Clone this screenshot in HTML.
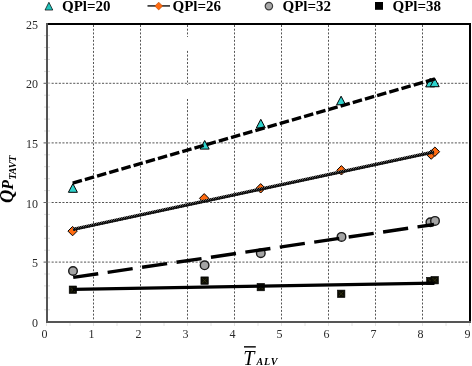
<!DOCTYPE html><html><head><meta charset="utf-8"><style>html,body{margin:0;padding:0;background:#fff;width:472px;height:366px;overflow:hidden}svg{display:block}.t{font-family:"Liberation Serif",serif;font-size:12px;fill:#2a2a2a}.lg{font-family:"Liberation Serif",serif;font-size:15px;font-weight:bold;fill:#000}</style></head><body>
<svg width="472" height="366" viewBox="0 0 472 366">
<defs><pattern id="ck" width="2" height="2" patternUnits="userSpaceOnUse"><rect width="2" height="2" fill="#6a6a6a"/><rect width="1" height="1" fill="#000"/><rect x="1" y="1" width="1" height="1" fill="#000"/></pattern></defs>
<line x1="93.5" y1="25" x2="93.5" y2="321" stroke="#555" stroke-width="1" stroke-dasharray="2 1.7"/>
<line x1="140.5" y1="25" x2="140.5" y2="321" stroke="#555" stroke-width="1" stroke-dasharray="2 1.7"/>
<line x1="187.5" y1="25" x2="187.5" y2="37" stroke="#555" stroke-width="1" stroke-dasharray="2 1.7" stroke-dashoffset="0.00"/>
<line x1="187.5" y1="49.5" x2="187.5" y2="85" stroke="#555" stroke-width="1" stroke-dasharray="2 1.7" stroke-dashoffset="2.30"/>
<line x1="187.5" y1="98" x2="187.5" y2="321" stroke="#555" stroke-width="1" stroke-dasharray="2 1.7" stroke-dashoffset="2.70"/>
<line x1="234.5" y1="25" x2="234.5" y2="321" stroke="#555" stroke-width="1" stroke-dasharray="2 1.7"/>
<line x1="281.5" y1="25" x2="281.5" y2="321" stroke="#555" stroke-width="1" stroke-dasharray="2 1.7"/>
<line x1="328.5" y1="25" x2="328.5" y2="321" stroke="#555" stroke-width="1" stroke-dasharray="2 1.7"/>
<line x1="375.5" y1="25" x2="375.5" y2="321" stroke="#555" stroke-width="1" stroke-dasharray="2 1.7"/>
<line x1="422.5" y1="25" x2="422.5" y2="321" stroke="#555" stroke-width="1" stroke-dasharray="2 1.7"/>
<line x1="48" y1="262.1" x2="469" y2="262.1" stroke="#555" stroke-width="1" stroke-dasharray="2.1 1.5"/>
<line x1="48" y1="202.5" x2="469" y2="202.5" stroke="#555" stroke-width="1" stroke-dasharray="2.1 1.5"/>
<line x1="48" y1="142.9" x2="469" y2="142.9" stroke="#555" stroke-width="1" stroke-dasharray="2.1 1.5"/>
<line x1="48" y1="83.3" x2="469" y2="83.3" stroke="#555" stroke-width="1" stroke-dasharray="2.1 1.5"/>
<line x1="46.5" y1="323" x2="46.5" y2="326" stroke="#e2e2e2" stroke-width="1"/>
<line x1="70.0" y1="323" x2="70.0" y2="326" stroke="#e2e2e2" stroke-width="1"/>
<line x1="93.5" y1="323" x2="93.5" y2="326" stroke="#e2e2e2" stroke-width="1"/>
<line x1="117.0" y1="323" x2="117.0" y2="326" stroke="#e2e2e2" stroke-width="1"/>
<line x1="140.5" y1="323" x2="140.5" y2="326" stroke="#e2e2e2" stroke-width="1"/>
<line x1="164.0" y1="323" x2="164.0" y2="326" stroke="#e2e2e2" stroke-width="1"/>
<line x1="187.5" y1="323" x2="187.5" y2="326" stroke="#e2e2e2" stroke-width="1"/>
<line x1="211.0" y1="323" x2="211.0" y2="326" stroke="#e2e2e2" stroke-width="1"/>
<line x1="234.5" y1="323" x2="234.5" y2="326" stroke="#e2e2e2" stroke-width="1"/>
<line x1="258.0" y1="323" x2="258.0" y2="326" stroke="#e2e2e2" stroke-width="1"/>
<line x1="281.5" y1="323" x2="281.5" y2="326" stroke="#e2e2e2" stroke-width="1"/>
<line x1="305.0" y1="323" x2="305.0" y2="326" stroke="#e2e2e2" stroke-width="1"/>
<line x1="328.5" y1="323" x2="328.5" y2="326" stroke="#e2e2e2" stroke-width="1"/>
<line x1="352.0" y1="323" x2="352.0" y2="326" stroke="#e2e2e2" stroke-width="1"/>
<line x1="375.5" y1="323" x2="375.5" y2="326" stroke="#e2e2e2" stroke-width="1"/>
<line x1="399.0" y1="323" x2="399.0" y2="326" stroke="#e2e2e2" stroke-width="1"/>
<line x1="422.5" y1="323" x2="422.5" y2="326" stroke="#e2e2e2" stroke-width="1"/>
<line x1="446.0" y1="323" x2="446.0" y2="326" stroke="#e2e2e2" stroke-width="1"/>
<line x1="469.5" y1="323" x2="469.5" y2="326" stroke="#e2e2e2" stroke-width="1"/>
<line x1="44" y1="309.8" x2="50" y2="309.8" stroke="#ddd" stroke-width="1"/>
<line x1="44" y1="297.9" x2="50" y2="297.9" stroke="#ddd" stroke-width="1"/>
<line x1="44" y1="285.9" x2="50" y2="285.9" stroke="#ddd" stroke-width="1"/>
<line x1="44" y1="274.0" x2="50" y2="274.0" stroke="#ddd" stroke-width="1"/>
<line x1="44" y1="262.1" x2="50" y2="262.1" stroke="#ddd" stroke-width="1"/>
<line x1="44" y1="250.2" x2="50" y2="250.2" stroke="#ddd" stroke-width="1"/>
<line x1="44" y1="238.3" x2="50" y2="238.3" stroke="#ddd" stroke-width="1"/>
<line x1="44" y1="226.3" x2="50" y2="226.3" stroke="#ddd" stroke-width="1"/>
<line x1="44" y1="214.4" x2="50" y2="214.4" stroke="#ddd" stroke-width="1"/>
<line x1="44" y1="202.5" x2="50" y2="202.5" stroke="#ddd" stroke-width="1"/>
<line x1="44" y1="190.6" x2="50" y2="190.6" stroke="#ddd" stroke-width="1"/>
<line x1="44" y1="178.7" x2="50" y2="178.7" stroke="#ddd" stroke-width="1"/>
<line x1="44" y1="166.7" x2="50" y2="166.7" stroke="#ddd" stroke-width="1"/>
<line x1="44" y1="154.8" x2="50" y2="154.8" stroke="#ddd" stroke-width="1"/>
<line x1="44" y1="142.9" x2="50" y2="142.9" stroke="#ddd" stroke-width="1"/>
<line x1="44" y1="131.0" x2="50" y2="131.0" stroke="#ddd" stroke-width="1"/>
<line x1="44" y1="119.1" x2="50" y2="119.1" stroke="#ddd" stroke-width="1"/>
<line x1="44" y1="107.1" x2="50" y2="107.1" stroke="#ddd" stroke-width="1"/>
<line x1="44" y1="95.2" x2="50" y2="95.2" stroke="#ddd" stroke-width="1"/>
<line x1="44" y1="83.3" x2="50" y2="83.3" stroke="#ddd" stroke-width="1"/>
<line x1="44" y1="71.4" x2="50" y2="71.4" stroke="#ddd" stroke-width="1"/>
<line x1="44" y1="59.5" x2="50" y2="59.5" stroke="#ddd" stroke-width="1"/>
<line x1="44" y1="47.5" x2="50" y2="47.5" stroke="#ddd" stroke-width="1"/>
<line x1="44" y1="35.6" x2="50" y2="35.6" stroke="#ddd" stroke-width="1"/>
<rect x="46" y="23" width="425" height="2" fill="#000"/>
<rect x="469" y="23" width="2" height="300" fill="#000"/>
<rect x="46" y="23" width="2" height="300" fill="#555"/>
<rect x="46" y="321" width="425" height="2" fill="#555"/>
<line x1="43.5" y1="262.1" x2="48" y2="262.1" stroke="#666" stroke-width="1"/>
<line x1="43.5" y1="202.5" x2="48" y2="202.5" stroke="#666" stroke-width="1"/>
<line x1="43.5" y1="142.9" x2="48" y2="142.9" stroke="#666" stroke-width="1"/>
<line x1="43.5" y1="83.3" x2="48" y2="83.3" stroke="#666" stroke-width="1"/>
<text class="t" x="44.5" y="338" text-anchor="middle">0</text>
<text class="t" x="91.5" y="338" text-anchor="middle">1</text>
<text class="t" x="138.5" y="338" text-anchor="middle">2</text>
<text class="t" x="185.5" y="338" text-anchor="middle">3</text>
<text class="t" x="232.5" y="338" text-anchor="middle">4</text>
<text class="t" x="279.5" y="338" text-anchor="middle">5</text>
<text class="t" x="326.5" y="338" text-anchor="middle">6</text>
<text class="t" x="373.5" y="338" text-anchor="middle">7</text>
<text class="t" x="420.5" y="338" text-anchor="middle">8</text>
<text class="t" x="467.5" y="338" text-anchor="middle">9</text>
<text class="t" x="38" y="326.7" text-anchor="end">0</text>
<text class="t" x="38" y="267.1" text-anchor="end">5</text>
<text class="t" x="38" y="207.5" text-anchor="end">10</text>
<text class="t" x="38" y="147.9" text-anchor="end">15</text>
<text class="t" x="38" y="88.3" text-anchor="end">20</text>
<text class="t" x="38" y="28.7" text-anchor="end">25</text>
<rect x="69.20" y="286.00" width="7.4" height="7.4" fill="#0c0c04" stroke="#000" stroke-width="0.6"/><path d="M70.70 287.50L75.10 291.90M75.10 287.50L70.70 291.90" stroke="#3a3a14" stroke-width="0.7"/>
<rect x="200.90" y="276.90" width="7.4" height="7.4" fill="#0c0c04" stroke="#000" stroke-width="0.6"/><path d="M202.40 278.40L206.80 282.80M206.80 278.40L202.40 282.80" stroke="#3a3a14" stroke-width="0.7"/>
<rect x="257.10" y="283.40" width="7.4" height="7.4" fill="#0c0c04" stroke="#000" stroke-width="0.6"/><path d="M258.60 284.90L263.00 289.30M263.00 284.90L258.60 289.30" stroke="#3a3a14" stroke-width="0.7"/>
<rect x="337.50" y="290.10" width="7.4" height="7.4" fill="#0c0c04" stroke="#000" stroke-width="0.6"/><path d="M339.00 291.60L343.40 296.00M343.40 291.60L339.00 296.00" stroke="#3a3a14" stroke-width="0.7"/>
<rect x="426.60" y="277.30" width="7.4" height="7.4" fill="#0c0c04" stroke="#000" stroke-width="0.6"/><path d="M428.10 278.80L432.50 283.20M432.50 278.80L428.10 283.20" stroke="#3a3a14" stroke-width="0.7"/>
<rect x="431.00" y="276.50" width="7.4" height="7.4" fill="#0c0c04" stroke="#000" stroke-width="0.6"/><path d="M432.50 278.00L436.90 282.40M436.90 278.00L432.50 282.40" stroke="#3a3a14" stroke-width="0.7"/>
<circle cx="73.00" cy="271.00" r="4.3" fill="#a4a4a4" stroke="#1a1a1a" stroke-width="1.4"/>
<circle cx="204.60" cy="265.30" r="4.3" fill="#a4a4a4" stroke="#1a1a1a" stroke-width="1.4"/>
<circle cx="260.80" cy="253.20" r="4.3" fill="#a4a4a4" stroke="#1a1a1a" stroke-width="1.4"/>
<circle cx="341.50" cy="236.90" r="4.3" fill="#a4a4a4" stroke="#1a1a1a" stroke-width="1.4"/>
<circle cx="430.40" cy="222.30" r="4.3" fill="#a4a4a4" stroke="#1a1a1a" stroke-width="1.4"/>
<circle cx="435.00" cy="220.90" r="4.3" fill="#a4a4a4" stroke="#1a1a1a" stroke-width="1.4"/>
<path d="M72.60 226.40L77.30 231.10L72.60 235.80L67.90 231.10Z" fill="#ff6a10" stroke="#000" stroke-width="1"/>
<path d="M204.20 193.60L208.90 198.30L204.20 203.00L199.50 198.30Z" fill="#ff6a10" stroke="#000" stroke-width="1"/>
<path d="M260.70 183.60L265.40 188.30L260.70 193.00L256.00 188.30Z" fill="#ff6a10" stroke="#000" stroke-width="1"/>
<path d="M341.40 165.60L346.10 170.30L341.40 175.00L336.70 170.30Z" fill="#ff6a10" stroke="#000" stroke-width="1"/>
<path d="M431.20 149.90L435.90 154.60L431.20 159.30L426.50 154.60Z" fill="#ff6a10" stroke="#000" stroke-width="1"/>
<path d="M434.90 147.00L439.60 151.70L434.90 156.40L430.20 151.70Z" fill="#ff6a10" stroke="#000" stroke-width="1"/>
<path d="M72.90 183.70L77.40 192.30L68.40 192.30Z" fill="#2fd2cc" stroke="#000" stroke-width="1" stroke-linejoin="miter"/>
<path d="M204.70 140.50L209.20 149.10L200.20 149.10Z" fill="#2fd2cc" stroke="#000" stroke-width="1" stroke-linejoin="miter"/>
<path d="M260.80 119.30L265.30 127.90L256.30 127.90Z" fill="#2fd2cc" stroke="#000" stroke-width="1" stroke-linejoin="miter"/>
<path d="M341.10 96.20L345.60 104.80L336.60 104.80Z" fill="#2fd2cc" stroke="#000" stroke-width="1" stroke-linejoin="miter"/>
<path d="M430.20 78.30L434.70 86.90L425.70 86.90Z" fill="#2fd2cc" stroke="#000" stroke-width="1" stroke-linejoin="miter"/>
<path d="M434.70 78.10L439.20 86.70L430.20 86.70Z" fill="#2fd2cc" stroke="#000" stroke-width="1" stroke-linejoin="miter"/>
<line x1="72.7" y1="183.1" x2="435" y2="78.95" stroke="#000" stroke-width="3.4" stroke-dasharray="9.57 3.1"/>
<line x1="73" y1="229.3" x2="434" y2="151.8" stroke="url(#ck)" stroke-width="3.4"/><line x1="73" y1="230.0" x2="434" y2="152.5" stroke="#111" stroke-width="1.4"/>
<line x1="73.2" y1="277.4" x2="434" y2="224.5" stroke="#000" stroke-width="3.4" stroke-dasharray="25.3 9.5"/>
<line x1="73" y1="289.3" x2="434.4" y2="283.2" stroke="#000" stroke-width="3.2"/>
<path d="M48.90 2.25L52.80 10.05L45.00 10.05Z" fill="#22c4bc" stroke="#000" stroke-width="0.7" stroke-linejoin="miter"/>
<text class="lg" x="62" y="11">QPl=20</text>
<line x1="147.5" y1="5.9" x2="170" y2="5.9" stroke="#3a3a3a" stroke-width="1.7"/>
<path d="M158.70 2.15L162.60 6.05L158.70 9.95L154.80 6.05Z" fill="#ff6a10" stroke="#b84a00" stroke-width="0.6"/>
<text class="lg" x="172.5" y="11">QPl=26</text>
<circle cx="268.9" cy="6.1" r="3.7" fill="#a8a8a8" stroke="#3a3a3a" stroke-width="1.2"/>
<text class="lg" x="282.5" y="11">QPl=32</text>
<rect x="375" y="2" width="8" height="7.8" fill="#000"/>
<text class="lg" x="392.5" y="11">QPl=38</text>
<text transform="translate(12.6,203) rotate(-90)" font-family="Liberation Serif,serif" font-style="italic" font-weight="bold" font-size="16" fill="#000"><tspan font-size="18.5">Q</tspan>P<tspan font-size="10" font-style="italic" font-weight="bold" dy="3">TAVT</tspan></text>
<text x="243.3" y="364.6" font-family="Liberation Serif,serif" font-style="italic" font-size="20" fill="#000">T<tspan font-size="10" font-style="italic" font-weight="bold" dx="2" letter-spacing="1">ALV</tspan></text>
<rect x="244" y="346.1" width="11.8" height="1.5" fill="#111"/>
</svg></body></html>
